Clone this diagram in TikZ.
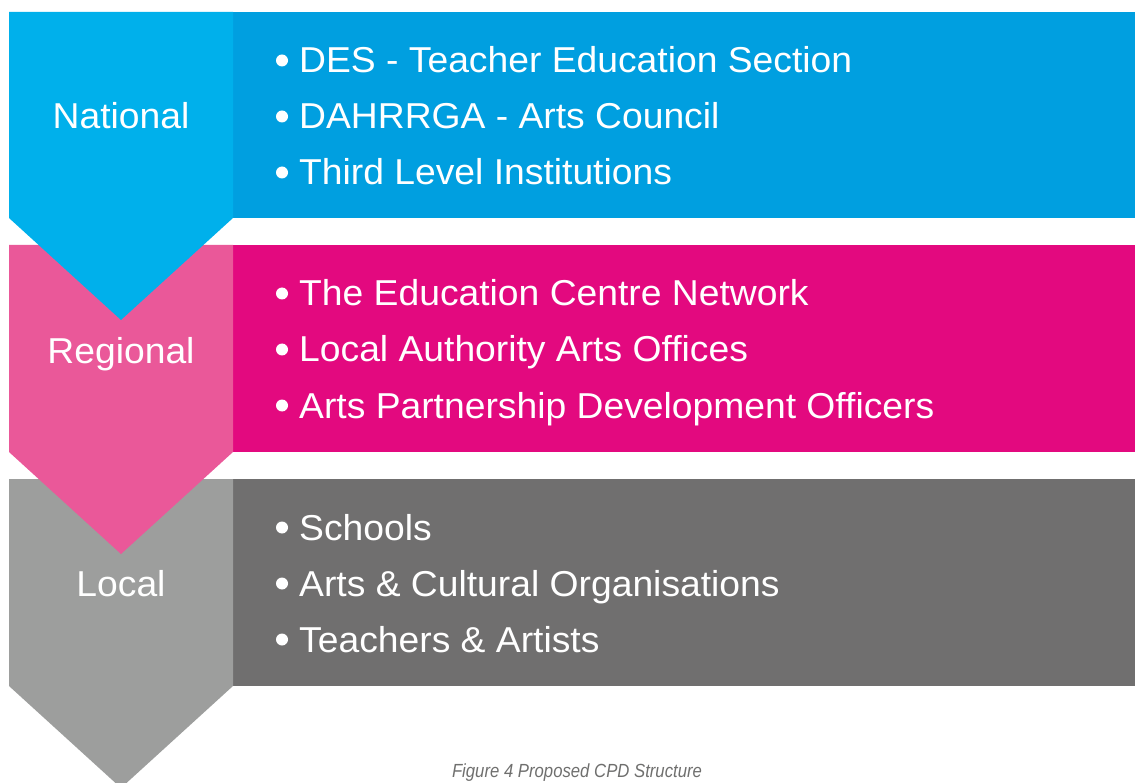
\documentclass[tikz,border=0pt]{standalone}
\usepackage{fontspec}
\setmainfont[FakeStretch=1.035]{Liberation Sans}
\newfontfamily\capfont[FakeStretch=0.88]{Liberation Sans}

\definecolor{natleft}{HTML}{00B0EB}
\definecolor{natright}{HTML}{009FE0}
\definecolor{regleft}{HTML}{EA5899}
\definecolor{regright}{HTML}{E3097F}
\definecolor{locleft}{HTML}{9D9E9D}
\definecolor{locright}{HTML}{706F6F}
\definecolor{capgray}{HTML}{6F6F6E}

\tikzset{
  lvl/.style={anchor=base,inner sep=0pt,text=white,font=\fontsize{36}{40}\selectfont},
  item/.style={anchor=base west,inner sep=0pt,text=white,font=\fontsize{36}{40}\selectfont}
}

\begin{document}
\begin{tikzpicture}[x=1pt,y=-1pt]
\useasboundingbox (0,0) rectangle (1135,783);

% bands, bottom one first so each arrow tip lies over the band below
\fill[locright] (233,479) rectangle (1135,686);
\fill[locleft] (9,479) -- (233,479) -- (233,686) -- (121,788) -- (9,686) -- cycle;
\fill[regright] (233,245) rectangle (1135,452);
\fill[regleft] (9,245) -- (233,245) -- (233,452) -- (121,554) -- (9,452) -- cycle;
\fill[natright] (233,12) rectangle (1135,218);
\fill[natleft] (9,12) -- (233,12) -- (233,218) -- (121,320) -- (9,218) -- cycle;

% level names
\node[lvl] (national) at (121,129) {National};
\node[lvl] (regional) at (121,363) {Regional};
\node[lvl] (local) at (121,596) {Local};

% bodies in each band
\node[item] (nat1) at (299,73) {DES - Teacher Education Section};
\node[item] (nat2) at (299,129) {DAHRRGA - Arts Council};
\node[item] (nat3) at (299,185) {Third Level Institutions};
\node[item] (reg1) at (299,306) {The Education Centre Network};
\node[item] (reg2) at (299,362) {Local Authority Arts Offices};
\node[item] (reg3) at (299,418) {Arts Partnership Development Officers};
\node[item] (loc1) at (299,540) {Schools};
\node[item] (loc2) at (299,596) {Arts \& Cultural Organisations};
\node[item] (loc3) at (299,652) {Teachers \& Artists};

% bullets
\foreach \n in {nat1,nat2,nat3,reg1,reg2,reg3,loc1,loc2,loc3}
  \fill[white] ([xshift=-17pt,yshift=12.5pt]\n.base west) circle (6);

\node[anchor=base,inner sep=0pt,text=capgray,font=\capfont\itshape\fontsize{19}{22}\selectfont] (caption) at (577,777) {Figure 4 Proposed CPD Structure};
\end{tikzpicture}
\end{document}
